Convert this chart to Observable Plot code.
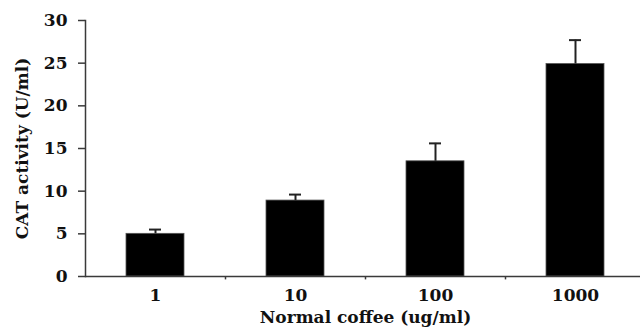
<!DOCTYPE html>
<html>
<head>
<meta charset="utf-8">
<script src="https://cdn.jsdelivr.net/npm/d3@7"></script>
<script src="https://cdn.jsdelivr.net/npm/@observablehq/plot@0.6"></script>
<style>
  html, body { margin: 0; padding: 0; background: #fff; }
  svg { display: block; }
</style>
</head>
<body>
<div id="chart"></div>
<script>
const categories = ["1", "10", "100", "1000"];
const values = [5.0, 8.9, 13.5, 24.9];
const errors = [0.5, 0.7, 2.1, 2.8];
const yTicks = [0, 5, 10, 15, 20, 25, 30];

const data = categories.map((c, i) => ({cat: c, value: values[i], err: errors[i], top: values[i] + errors[i]}));

const axisColor = "#3a3a3a";
const font = "'DejaVu Serif', 'Liberation Serif', serif";

const chart = Plot.plot({
  width: 640,
  height: 329,
  marginTop: 20,
  marginBottom: 53,
  marginLeft: 85,
  marginRight: -5,
  style: {fontFamily: font, fontSize: "17px", fontWeight: "bold", color: "#111", background: "#fff", overflow: "visible"},
  x: {domain: categories, paddingInner: 0.585, paddingOuter: 0.29, label: null},
  y: {domain: [0, 30], label: null},
  marks: [
    Plot.barY(data, {x: "cat", y: "value", fill: "#000", stroke: "#555", strokeWidth: 0.8}),
    Plot.ruleX(data, {x: "cat", y1: "value", y2: "top", stroke: "#222", strokeWidth: 2}),
    Plot.tickY(data, {x: "cat", y: "top", stroke: "#222", strokeWidth: 2, insetLeft: 23, insetRight: 23}),
    Plot.ruleY([0], {stroke: axisColor, strokeWidth: 1.5}),
    Plot.ruleX(categories.slice(0, -1), {x: d => d, dx: 70, y1: 0, y2: -0.4, stroke: axisColor, strokeWidth: 1.5}),
    Plot.frame({anchor: "left", stroke: axisColor, strokeWidth: 1.5}),
    Plot.axisY({ticks: yTicks, tickSize: 7, tickPadding: 11, stroke: axisColor, strokeWidth: 1.5, fontSize: 17, fontWeight: "bold", fill: "#111", label: null}),
    Plot.axisX({tickSize: 0, tickPadding: 12, fontSize: 17, fontWeight: "bold", fill: "#111", label: null}),
    Plot.text(["Normal coffee (ug/ml)"], {frameAnchor: "bottom", dy: 46, text: d => d, fontSize: 17, fontWeight: "bold", fill: "#111"}),
    Plot.text(["CAT activity (U/ml)"], {frameAnchor: "left", dx: -63, rotate: -90, textAnchor: "middle", text: d => d, fontSize: 17, fontWeight: "bold", fill: "#111"})
  ]
});

document.getElementById("chart").appendChild(chart);
</script>
</body>
</html>
